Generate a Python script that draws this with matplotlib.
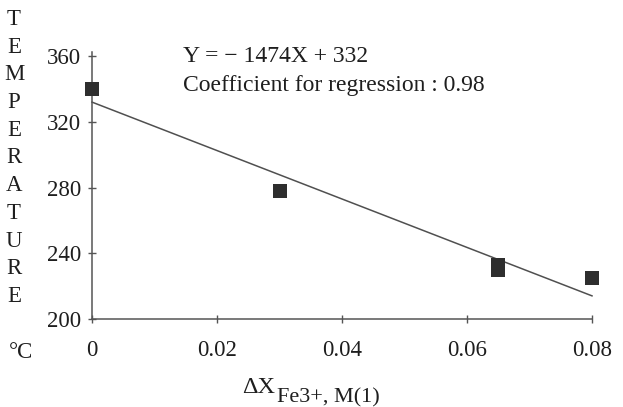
import matplotlib
matplotlib.use("Agg")
import matplotlib.pyplot as plt
import numpy as np

x_vals = [0.0, 0.03, 0.065, 0.065, 0.08]
y_vals = [340, 278, 233, 230, 225]
slope = -1474
intercept = 332
x_ticks = [0, 0.02, 0.04, 0.06, 0.08]
x_tick_labels = ["0", "0.02", "0.04", "0.06", "0.08"]
y_ticks = [200, 240, 280, 320, 360]
eq_text = "Y = \u2212 1474X + 332"
coef_text = "Coefficient for regression : 0.98"
ylabel_letters = list("TEMPERATURE")
xlabel_main = "\u0394X"
xlabel_sub = "Fe3+, M(1)"

FONT = ["Liberation Serif", "DejaVu Serif"]
plt.rcParams['font.family'] = FONT
TXT = "#1e1e1e"

fig = plt.figure(figsize=(6.23, 4.07), dpi=100)
ax = fig.add_axes([92 / 623, 1 - 319 / 407, 500 / 623, 267 / 407])

xl = np.array([0.0, 0.08])
ax.plot(xl, slope * xl + intercept, color="#505050", lw=1.1, clip_on=False, zorder=2)
ax.scatter(x_vals, y_vals, marker="s", s=108, color="#2e2e2e", clip_on=False, zorder=3, linewidths=0)

ax.set_xlim(0, 0.08)
ax.set_ylim(200, 362.5)
for s in ["top", "right"]:
    ax.spines[s].set_visible(False)
for s in ["left", "bottom"]:
    ax.spines[s].set_color("#555555")
    ax.spines[s].set_linewidth(1.1)
ax.set_xticks(x_ticks)
ax.set_xticklabels(x_tick_labels)
ax.set_yticks(y_ticks)
ax.tick_params(direction="inout", length=6, width=1.0, color="#555555",
               labelsize=16.5, labelcolor=TXT, pad=5)
ax.tick_params(axis="x", pad=12)

ax.text(0.182, 0.985, eq_text, transform=ax.transAxes, fontsize=17, color=TXT, va="center")
ax.text(0.182, 0.875, coef_text, transform=ax.transAxes, fontsize=17, color=TXT, va="center")

fig.text(14 / 623, 1 - 158 / 407, "\n".join(ylabel_letters), fontsize=16.5, color=TXT,
         ha="center", va="center", linespacing=1.42)
fig.text(21 / 623, 1 - 352 / 407, "\u00b0C", fontsize=16.5, color=TXT, ha="center", va="center")
fig.text(242 / 623, 1 - 393 / 407, xlabel_main, fontsize=17.5, color=TXT,
         ha="left", va="baseline")
fig.text(277 / 623, 1 - 402 / 407, xlabel_sub, fontsize=16, color=TXT,
         ha="left", va="baseline")

fig.savefig("out.png", dpi=100)
